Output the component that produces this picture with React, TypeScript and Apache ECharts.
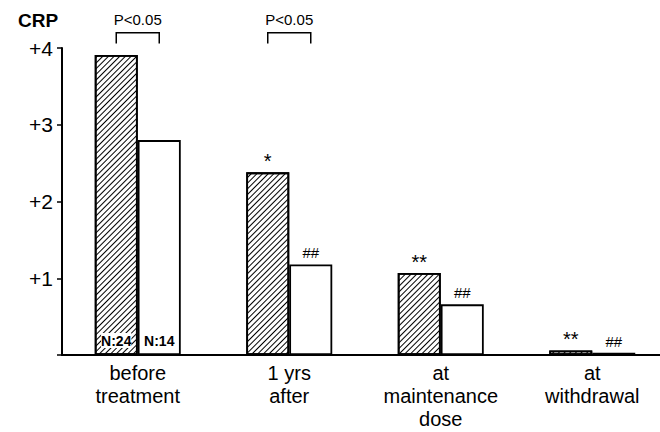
import React, { useEffect, useRef } from "react";
import * as echarts from "echarts";

const categories = ["before\ntreatment", "1 yrs\nafter", "at\nmaintenance\ndose", "at\nwithdrawal"];
const hatchedValues = [3.91, 2.38, 1.07, 0.06];
const whiteValues = [2.8, 1.18, 0.66, 0.03];
const hatchedMarks = ["N:24", "*", "**", "**"];
const whiteMarks = ["N:14", "##", "##", "##"];
const yTicks = [0, 1, 2, 3, 4];
const bracketCats = [0, 1];
const bracketLabels = ["P<0.05", "P<0.05"];

const BAR_W = 43;
const SANS = "'Liberation Sans', Arial, sans-serif";

function barData(values: number[], marks: string[]) {
  return values.map((v, i) => {
    const m = marks[i];
    const inside = m.startsWith("N:");
    const hash = m.startsWith("#");
    return {
      value: v,
      label: inside
        ? {
            show: true,
            position: "insideBottom",
            distance: 7,
            formatter: m,
            fontFamily: SANS,
            fontWeight: "bold",
            fontSize: 14,
            color: "#000",
            backgroundColor: "#fff",
            padding: [1, 0, 0, 0],
          }
        : {
            show: true,
            position: "top",
            distance: hash ? 4 : 1,
            formatter: m,
            fontFamily: SANS,
            fontSize: hash ? 15 : 20,
            color: "#000",
          },
    };
  });
}

export default function App() {
  const ref = useRef<HTMLDivElement>(null);
  useEffect(() => {
    if (!ref.current) return;
    const chart = echarts.init(ref.current, null, { renderer: "svg" });
    chart.setOption({
      animation: false,
      backgroundColor: "#fff",
      grid: {
        left: 62,
        width: 606,
        top: 48,
        bottom: 77,
        containLabel: false,
        outerBoundsMode: "none",
      },
      xAxis: {
        type: "category",
        data: categories,
        axisLine: { lineStyle: { color: "#000", width: 2 } },
        axisTick: { show: false },
        axisLabel: {
          color: "#000",
          fontFamily: SANS,
          fontSize: 20,
          lineHeight: 23,
          margin: 6,
          interval: 0,
        },
      },
      yAxis: {
        type: "value",
        min: yTicks[0],
        max: yTicks[yTicks.length - 1],
        interval: 1,
        splitLine: { show: false },
        axisLine: { show: true, lineStyle: { color: "#000", width: 2 } },
        axisTick: { show: true, length: 5, lineStyle: { color: "#000", width: 1.5 } },
        axisLabel: {
          color: "#000",
          fontFamily: SANS,
          fontSize: 21,
          margin: 9,
          formatter: (v: number) => (v === 0 ? "" : "+" + v),
        },
      },
      graphic: [
        {
          type: "text",
          left: 18,
          top: 11,
          style: {
            text: "CRP",
            fontFamily: SANS,
            fontWeight: "bold",
            fontSize: 19,
            fill: "#000",
          },
        },
      ],
      series: [
        {
          type: "bar",
          name: "hatched",
          data: barData(hatchedValues, hatchedMarks),
          barWidth: BAR_W,
          barGap: "0%",
          itemStyle: {
            color: "#fff",
            borderColor: "#000",
            borderWidth: 1.8,
            decal: {
              symbol: "rect",
              color: "#000",
              backgroundColor: "#fff",
              dashArrayX: [1, 0],
              dashArrayY: [1, 3],
              rotation: -Math.PI / 4,
            },
          },
        },
        {
          type: "bar",
          name: "white",
          data: barData(whiteValues, whiteMarks),
          barWidth: BAR_W,
          barGap: "0%",
          itemStyle: { color: "#fff", borderColor: "#000", borderWidth: 1.8 },
        },
        {
          type: "custom",
          name: "brackets",
          clip: false,
          silent: true,
          data: bracketCats.map((c, i) => [c, 4, i]),
          renderItem: (params: any, api: any) => {
            const cat = api.value(0);
            const idx = api.value(2);
            const topPt = api.coord([cat, 4.2]);
            const botPt = api.coord([cat, 4.06]);
            const txtPt = api.coord([cat, 4.37]);
            const half = BAR_W / 2;
            const l = topPt[0] - half;
            const r = topPt[0] + half;
            return {
              type: "group",
              children: [
                {
                  type: "polyline",
                  shape: {
                    points: [
                      [l, botPt[1]],
                      [l, topPt[1]],
                      [r, topPt[1]],
                      [r, botPt[1]],
                    ],
                  },
                  style: { stroke: "#000", lineWidth: 1.5, fill: "none" },
                },
                {
                  type: "text",
                  x: topPt[0],
                  y: txtPt[1],
                  style: {
                    text: bracketLabels[idx],
                    fontFamily: SANS,
                    fontSize: 15,
                    fill: "#000",
                    align: "center",
                    verticalAlign: "middle",
                  },
                },
              ],
            };
          },
        },
      ],
    });
    return () => chart.dispose();
  }, []);
  return (
    <div
      ref={ref}
      style={{ position: "fixed", left: 0, top: 0, width: 660, height: 432, background: "#fff" }}
    />
  );
}
